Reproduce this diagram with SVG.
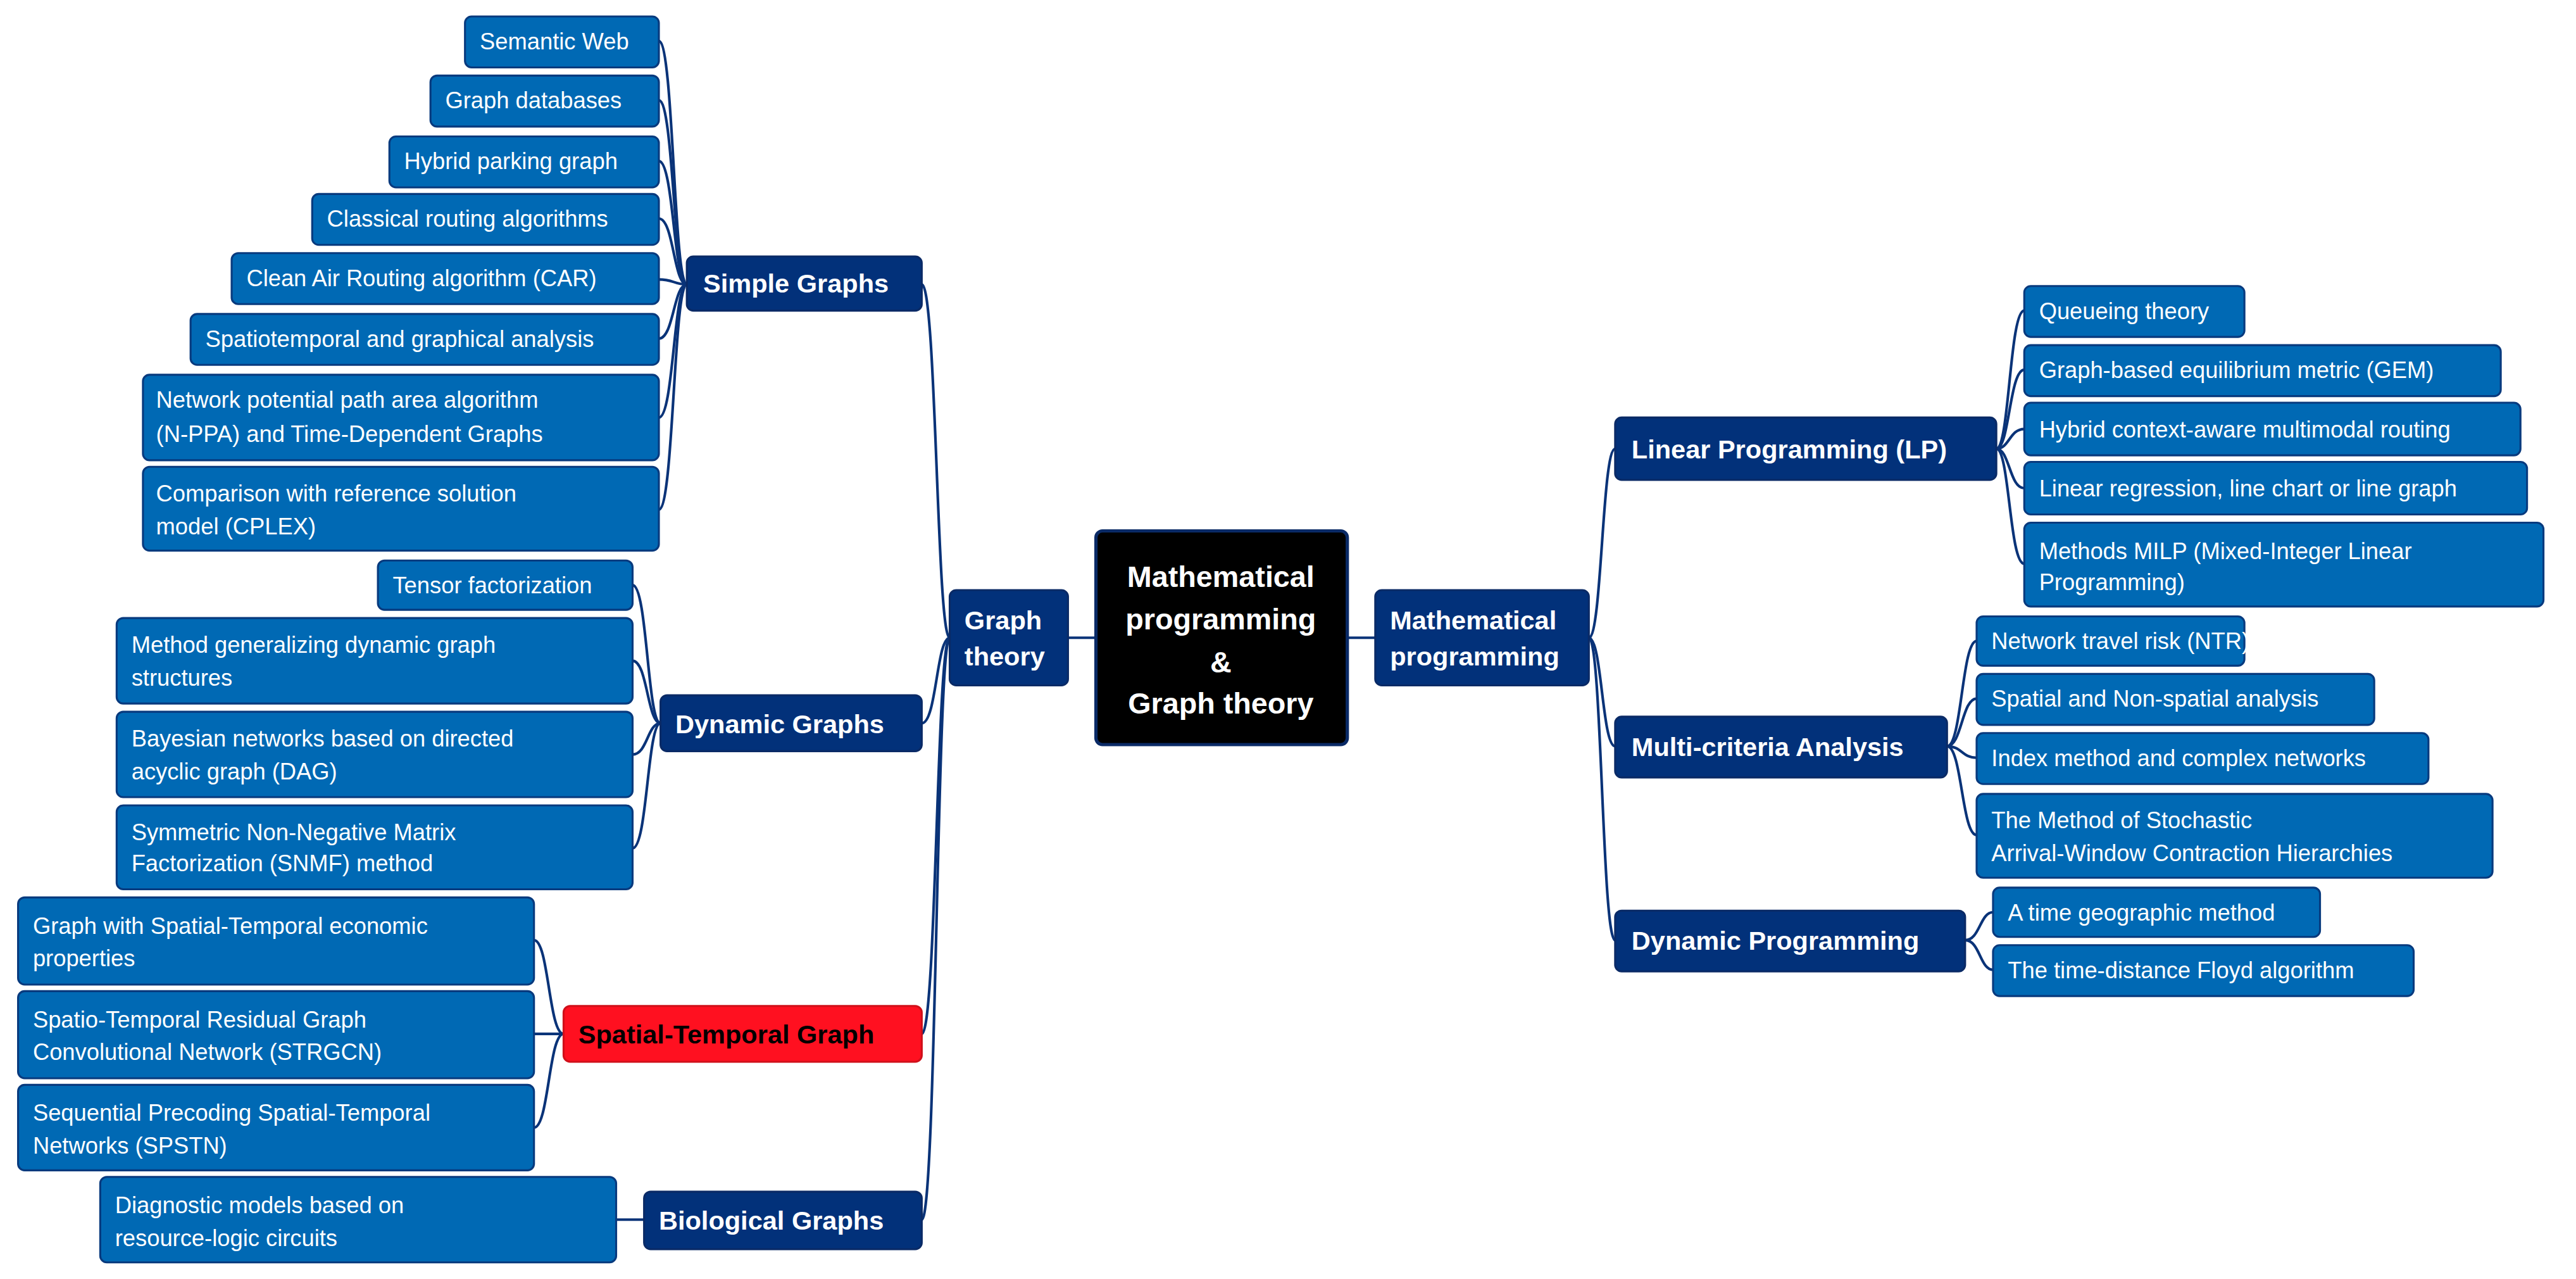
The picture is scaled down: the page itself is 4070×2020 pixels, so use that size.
<svg xmlns="http://www.w3.org/2000/svg" width="4070" height="2020" viewBox="0 0 4070 2020">
<style>
.leaf rect{fill:#0069b4;stroke:#083a7e;stroke-width:1.2}
.cat rect{fill:#02317a;stroke:#0a2a66;stroke-width:1.2}
.red rect{fill:#ff1020;stroke:#d0101a;stroke-width:1.2}
.ctr rect{fill:#000;stroke:#0a2a66;stroke-width:2}
.leaf text{font-family:"Liberation Sans",Arial,sans-serif;font-size:14px;fill:#fff}
.cat text,.ctr text{font-family:"Liberation Sans",Arial,sans-serif;font-size:16px;font-weight:bold;fill:#fff}
.red text{font-family:"Liberation Sans",Arial,sans-serif;font-size:16px;font-weight:bold;fill:#000}
.ctr text{font-size:18px}
#links path{fill:none;stroke:#0a3378;stroke-width:1.6}
</style>
<rect width="4070" height="2020" fill="#fff"/>
<g transform="scale(2.596)">
<g id="links">
<path d="M667,388 L650,388"/>
<path d="M837,388 L820,388"/>
<path d="M578,388 C570,388 570,173 561,173"/>
<path d="M578,388 C570,388 570,440 561,440"/>
<path d="M578,388 C570,388 570,629 561,629"/>
<path d="M578,388 C570,388 570,742 561,742"/>
<path d="M967,388 C975,388 975,273 983,273"/>
<path d="M967,388 C975,388 975,454 983,454"/>
<path d="M967,388 C975,388 975,572 983,572"/>
<path d="M418,173 C410,173 410,25 401,25"/>
<path d="M418,173 C410,173 410,61 401,61"/>
<path d="M418,173 C410,173 410,98 401,98"/>
<path d="M418,173 C410,173 410,133 401,133"/>
<path d="M418,173 C410,173 410,170 401,170"/>
<path d="M418,173 C410,173 410,206 401,206"/>
<path d="M418,173 C410,173 410,254 401,254"/>
<path d="M418,173 C410,173 410,310 401,310"/>
<path d="M402,440 C394,440 394,356 385,356"/>
<path d="M402,440 C394,440 394,402 385,402"/>
<path d="M402,440 C394,440 394,459 385,459"/>
<path d="M402,440 C394,440 394,516 385,516"/>
<path d="M343,629 C334,629 334,572 325,572"/>
<path d="M343,629 L325,629"/>
<path d="M343,629 C334,629 334,686 325,686"/>
<path d="M392,742 L375,742"/>
<path d="M1215,273 C1223,273 1223,189 1232,189"/>
<path d="M1215,273 C1223,273 1223,225 1232,225"/>
<path d="M1215,273 C1223,273 1223,261 1232,261"/>
<path d="M1215,273 C1223,273 1223,297 1232,297"/>
<path d="M1215,273 C1223,273 1223,343 1232,343"/>
<path d="M1185,454 C1194,454 1194,390 1203,390"/>
<path d="M1185,454 C1194,454 1194,425 1203,425"/>
<path d="M1185,454 C1194,454 1194,461 1203,461"/>
<path d="M1185,454 C1194,454 1194,508 1203,508"/>
<path d="M1196,572 C1205,572 1205,555 1213,555"/>
<path d="M1196,572 C1205,572 1205,590 1213,590"/>
</g>
<g id="center" class="ctr"><rect x="667" y="323" width="153" height="130" rx="4"/>
<text x="743" y="357" text-anchor="middle">Mathematical</text><text x="743" y="383" text-anchor="middle">programming</text><text x="743" y="409" text-anchor="middle">&amp;</text><text x="743" y="434" text-anchor="middle">Graph theory</text></g>
<g id="graph-theory" class="cat"><rect x="578" y="359" width="72" height="58" rx="4"/><text x="587" y="383">Graph</text><text x="587" y="405">theory</text></g>
<g id="math-prog" class="cat"><rect x="837" y="359" width="130" height="58" rx="4"/><text x="846" y="383">Mathematical</text><text x="846" y="405">programming</text></g>
<g id="simple" class="cat"><rect x="418" y="156" width="143" height="33" rx="4"/><text x="428" y="178">Simple Graphs</text></g>
<g id="dynamic" class="cat"><rect x="402" y="423" width="159" height="34" rx="4"/><text x="411" y="446">Dynamic Graphs</text></g>
<g id="spatial" class="red"><rect x="343" y="612" width="218" height="34" rx="4"/><text x="352" y="635">Spatial-Temporal Graph</text></g>
<g id="bio" class="cat"><rect x="392" y="725" width="169" height="35" rx="4"/><text x="401" y="748">Biological Graphs</text></g>
<g id="lp" class="cat"><rect x="983" y="254" width="232" height="38" rx="4"/><text x="993" y="279">Linear Programming (LP)</text></g>
<g id="mca" class="cat"><rect x="983" y="436" width="202" height="37" rx="4"/><text x="993" y="460">Multi-criteria Analysis</text></g>
<g id="dp" class="cat"><rect x="983" y="554" width="213" height="37" rx="4"/><text x="993" y="578">Dynamic Programming</text></g>
<g id="l1" class="leaf"><rect x="283" y="10" width="118" height="31" rx="4"/><text x="292" y="30">Semantic Web</text></g>
<g id="l2" class="leaf"><rect x="262" y="46" width="139" height="31" rx="4"/><text x="271" y="66">Graph databases</text></g>
<g id="l3" class="leaf"><rect x="237" y="83" width="164" height="31" rx="4"/><text x="246" y="103">Hybrid parking graph</text></g>
<g id="l4" class="leaf"><rect x="190" y="118" width="211" height="31" rx="4"/><text x="199" y="138">Classical routing algorithms</text></g>
<g id="l5" class="leaf"><rect x="141" y="154" width="260" height="31" rx="4"/><text x="150" y="174">Clean Air Routing algorithm (CAR)</text></g>
<g id="l6" class="leaf"><rect x="116" y="191" width="285" height="31" rx="4"/><text x="125" y="211">Spatiotemporal and graphical analysis</text></g>
<g id="l7" class="leaf"><rect x="87" y="228" width="314" height="52" rx="4"/><text x="95" y="248">Network potential path area algorithm</text><text x="95" y="269">(N-PPA) and Time-Dependent Graphs</text></g>
<g id="l8" class="leaf"><rect x="87" y="284" width="314" height="51" rx="4"/><text x="95" y="305">Comparison with reference solution</text><text x="95" y="325">model (CPLEX)</text></g>
<g id="d1" class="leaf"><rect x="230" y="341" width="155" height="30" rx="4"/><text x="239" y="361">Tensor factorization</text></g>
<g id="d2" class="leaf"><rect x="71" y="376" width="314" height="52" rx="4"/><text x="80" y="397">Method generalizing dynamic graph</text><text x="80" y="417">structures</text></g>
<g id="d3" class="leaf"><rect x="71" y="433" width="314" height="52" rx="4"/><text x="80" y="454">Bayesian networks based on directed</text><text x="80" y="474">acyclic graph (DAG)</text></g>
<g id="d4" class="leaf"><rect x="71" y="490" width="314" height="51" rx="4"/><text x="80" y="511">Symmetric Non-Negative Matrix</text><text x="80" y="530">Factorization (SNMF) method</text></g>
<g id="s1" class="leaf"><rect x="11" y="546" width="314" height="53" rx="4"/><text x="20" y="568">Graph with Spatial-Temporal economic</text><text x="20" y="588">properties</text></g>
<g id="s2" class="leaf"><rect x="11" y="603" width="314" height="53" rx="4"/><text x="20" y="625">Spatio-Temporal Residual Graph</text><text x="20" y="645">Convolutional Network (STRGCN)</text></g>
<g id="s3" class="leaf"><rect x="11" y="660" width="314" height="52" rx="4"/><text x="20" y="682">Sequential Precoding Spatial-Temporal</text><text x="20" y="702">Networks (SPSTN)</text></g>
<g id="b1" class="leaf"><rect x="61" y="716" width="314" height="52" rx="4"/><text x="70" y="738">Diagnostic models based on</text><text x="70" y="758">resource-logic circuits</text></g>
<g id="r1" class="leaf"><rect x="1232" y="174" width="134" height="31" rx="4"/><text x="1241" y="194">Queueing theory</text></g>
<g id="r2" class="leaf"><rect x="1232" y="210" width="290" height="31" rx="4"/><text x="1241" y="230">Graph-based equilibrium metric (GEM)</text></g>
<g id="r3" class="leaf"><rect x="1232" y="245" width="302" height="32" rx="4"/><text x="1241" y="266">Hybrid context-aware multimodal routing</text></g>
<g id="r4" class="leaf"><rect x="1232" y="281" width="306" height="32" rx="4"/><text x="1241" y="302">Linear regression, line chart or line graph</text></g>
<g id="r5" class="leaf"><rect x="1232" y="318" width="316" height="51" rx="4"/><text x="1241" y="340">Methods MILP (Mixed-Integer Linear</text><text x="1241" y="359">Programming)</text></g>
<g id="m1" class="leaf"><rect x="1203" y="375" width="163" height="30" rx="4"/><text x="1212" y="395">Network travel risk (NTR)</text></g>
<g id="m2" class="leaf"><rect x="1203" y="410" width="242" height="31" rx="4"/><text x="1212" y="430">Spatial and Non-spatial analysis</text></g>
<g id="m3" class="leaf"><rect x="1203" y="446" width="275" height="31" rx="4"/><text x="1212" y="466">Index method and complex networks</text></g>
<g id="m4" class="leaf"><rect x="1203" y="483" width="314" height="51" rx="4"/><text x="1212" y="504">The Method of Stochastic</text><text x="1212" y="524">Arrival-Window Contraction Hierarchies</text></g>
<g id="p1" class="leaf"><rect x="1213" y="540" width="199" height="30" rx="4"/><text x="1222" y="560">A time geographic method</text></g>
<g id="p2" class="leaf"><rect x="1213" y="575" width="256" height="31" rx="4"/><text x="1222" y="595">The time-distance Floyd algorithm</text></g>
</g>
</svg>
